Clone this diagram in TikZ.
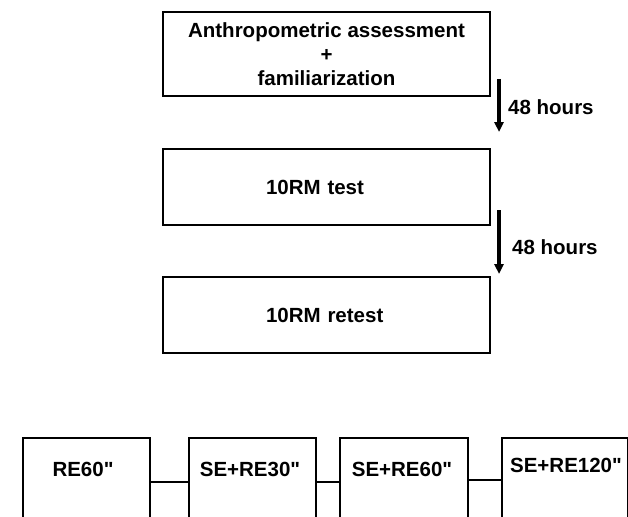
\documentclass[tikz,border=0pt]{standalone}
\usepackage{fontspec}
\newfontfamily\diagfont{Liberation Sans}
\usetikzlibrary{arrows.meta}
\begin{document}
\begin{tikzpicture}[x=1pt,y=-1pt,
  every node/.style={font=\diagfont\bfseries\fontsize{20.5}{24.2}\selectfont, inner sep=0pt},
  flowbox/.style={draw, line width=2pt, minimum width=327pt, anchor=north west},
  leftbox/.style={flowbox, align=left, text width=121pt, inner xsep=103pt, minimum height=76pt},
  smallbox/.style={draw, line width=1.5pt, minimum height=88pt, anchor=north west},
  conn/.style={line width=1.5pt},
  arr/.style={line width=3.2pt, -{Triangle[width=9pt,length=10pt]}}]
\useasboundingbox (0,0) rectangle (628,516);
\clip (0,0) rectangle (628,516);
% main flow
\node[flowbox, minimum height=84pt, align=center] (anth) at (162,11)
  {Anthropometric assessment\\+\\familiarization};
\node[leftbox] (test) at (162,148) {10RM test};
\node[leftbox] (retest) at (162,276) {10RM retest};
\draw[arr] ([xshift=8pt,yshift=18pt]anth.south east) -- ([xshift=8pt,yshift=16pt]test.north east);
\draw[arr] ([xshift=8pt,yshift=16pt]test.south east) -- ([xshift=8pt,yshift=2pt]retest.north east);
\node[anchor=west] (h1) at (508,107) {48 hours};
\node[anchor=west] (h2) at (512,247) {48 hours};
% bottom boxes
\node[smallbox, minimum width=127pt] (b1) at (22,437) {};
\node[smallbox, minimum width=127pt] (b2) at (188,437) {};
\node[smallbox, minimum width=128pt] (b3) at (339,437) {};
\node[smallbox, minimum width=126pt] (b4) at (501,437) {};
\node (t1) at (83,469) {RE60"};
\node (t2) at (250,469) {SE+RE30"};
\node (t3) at (402,469) {SE+RE60"};
\node (t4) at (566,465) {SE+RE120"};
\draw[conn] (b1.east) -- (b2.west);
\draw[conn] (b2.east) -- (b3.west);
\draw[conn] ([yshift=2pt]b3.east) -- ([yshift=2pt]b4.west);
\end{tikzpicture}
\end{document}
